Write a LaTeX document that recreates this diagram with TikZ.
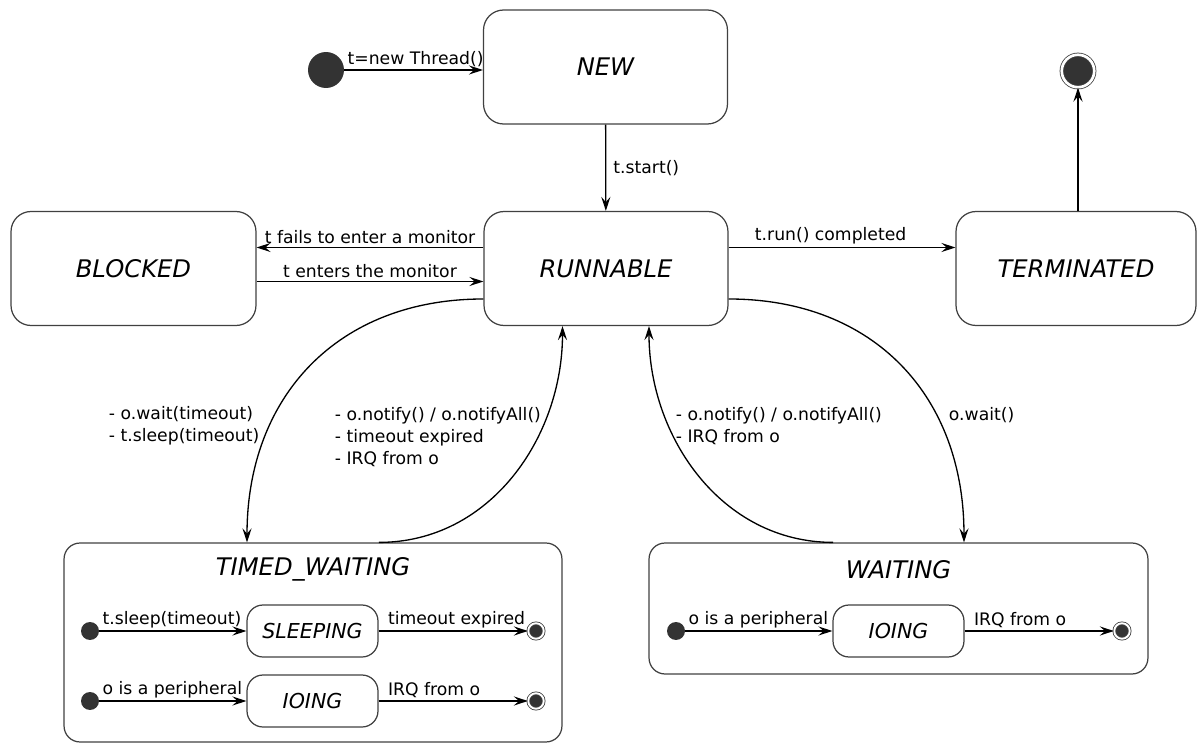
\documentclass[tikz,border=0pt]{standalone}
\usepackage{fontspec}
\setmainfont{DejaVu Sans}
\usetikzlibrary{arrows.meta}
\definecolor{ink}{HTML}{333333}
\definecolor{rim}{HTML}{404040}

\begin{document}
\begin{tikzpicture}[x=0.02cm, y=-0.02cm, >={Stealth[length=8pt,width=5.2pt,inset=3pt]},
    bigstate/.style={draw=rim, line width=0.7pt, rounded corners=0.4cm, minimum width=4.88cm, minimum height=2.28cm, font=\fontsize{13.8}{16}\selectfont\itshape},
    smallstate/.style={draw=rim, line width=0.7pt, rounded corners=0.32cm, minimum width=2.62cm, minimum height=1.04cm, font=\fontsize{11.7}{14}\selectfont\itshape},
    compound/.style={draw=rim, line width=0.7pt, rounded corners=0.32cm, inner sep=0pt},
    regionname/.style={font=\fontsize{13.8}{16}\selectfont\itshape},
    initdot/.style={circle, fill=ink, inner sep=0pt, minimum size=#1},
    finaldot/.style={circle, draw=rim, fill=ink, double=white, double distance=1.1pt, line width=0.45pt, inner sep=0pt, minimum size=#1},
    lbl/.style={font=\fontsize{9.8}{12.5}\selectfont, inner sep=1.5pt},
    edgeline/.style={->, line width=0.75pt}]
    \useasboundingbox (0,0) rectangle (1198,743);

    % top level states
    \node[initdot=0.72cm] (init) at (326,70) {};
    \node[bigstate] (new) at (605.5,67) {NEW};
    \node[bigstate] (run) at (606,268.5) {RUNNABLE};
    \node[bigstate, minimum width=4.9cm] (blk) at (133.5,268.5) {BLOCKED};
    \node[bigstate, minimum width=4.8cm] (term) at (1076,268.5) {TERMINATED};
    \node[finaldot=0.65cm, double distance=1.5pt] (fin) at (1078,71) {};

    % composite states
    \node[compound, minimum width=9.96cm, minimum height=3.98cm] (tw) at (313,642.5) {};
    \node[regionname] (twname) at ([yshift=-0.54cm]tw.north) {TIMED\_WAITING};
    \node[compound, minimum width=9.98cm, minimum height=2.62cm] (wt) at (898.5,608.5) {};
    \node[regionname] (wtname) at ([yshift=-0.54cm]wt.north) {WAITING};

    \node[smallstate] (sleep) at (312.5,631) {SLEEPING};
    \node[smallstate] (ioa) at (312.5,701) {IOING};
    \node[smallstate] (iob) at (898.5,631) {IOING};
    \node[initdot=0.36cm] (da) at (90,631) {};
    \node[initdot=0.36cm] (db) at (90,701) {};
    \node[initdot=0.36cm] (dc) at (676,631) {};
    \node[finaldot=0.31cm] (fa) at (536,631) {};
    \node[finaldot=0.31cm] (fb) at (536,701) {};
    \node[finaldot=0.31cm] (fc) at (1122,631) {};

    % straight transitions
    \draw[edgeline] (init) -- (init -| new.west) node[lbl, pos=0, above right] {t=new Thread()};
    \draw[edgeline] (new) -- (run) node[lbl, midway, right, xshift=2.5pt] {t.start()};
    \draw[edgeline] ([yshift=.42cm]run.west) -- ([yshift=.42cm]blk.east) node[lbl, midway, above] {t fails to enter a monitor};
    \draw[edgeline] ([yshift=-.26cm]blk.east) -- ([yshift=-.26cm]run.west) node[lbl, midway, above] {t enters the monitor};
    \draw[edgeline] ([yshift=.42cm]run.east) -- ([yshift=.42cm]term.west) node[lbl, pos=.45, above] {t.run() completed};
    \draw[edgeline] (term.north -| fin) -- (fin);

    % curved transitions
    \draw[edgeline] ([yshift=-.61cm]run.west) to[out=180, in=90, looseness=1.1] ([xshift=-1.32cm]tw.north);
    \draw[edgeline] ([xshift=1.32cm]tw.north) to[out=0, in=-90] ([xshift=-.87cm]run.south);
    \draw[edgeline] ([xshift=-1.31cm]wt.north) to[out=180, in=-90] ([xshift=.86cm]run.south);
    \draw[edgeline] ([yshift=-.61cm]run.east) to[out=0, in=90, looseness=1.1] ([xshift=1.31cm]wt.north);
    \node[lbl, align=left, anchor=west] (waitlbl) at (106,426) {- o.wait(timeout)\\- t.sleep(timeout)};
    \node[lbl, align=left, anchor=west] (twback) at (332,437) {- o.notify() / o.notifyAll()\\- timeout expired\\- IRQ from o};
    \node[lbl, align=left, anchor=west] (wtback) at (673,426) {- o.notify() / o.notifyAll()\\- IRQ from o};
    \node[lbl, anchor=west] (owait) at (946,415) {o.wait()};

    % inner transitions
    \draw[edgeline] (da) -- (sleep) node[lbl, pos=0, above right] {t.sleep(timeout)};
    \draw[edgeline] (sleep) -- (fa) node[lbl, pos=0, above right, xshift=3.5pt] {timeout expired};
    \draw[edgeline] (db) -- (ioa) node[lbl, pos=0, above right] {o is a peripheral};
    \draw[edgeline] (ioa) -- (fb) node[lbl, pos=0, above right, xshift=3.5pt] {IRQ from o};
    \draw[edgeline] (dc) -- (iob) node[lbl, pos=0, above right] {o is a peripheral};
    \draw[edgeline] (iob) -- (fc) node[lbl, pos=0, above right, xshift=3.5pt] {IRQ from o};
\end{tikzpicture}
\end{document}
